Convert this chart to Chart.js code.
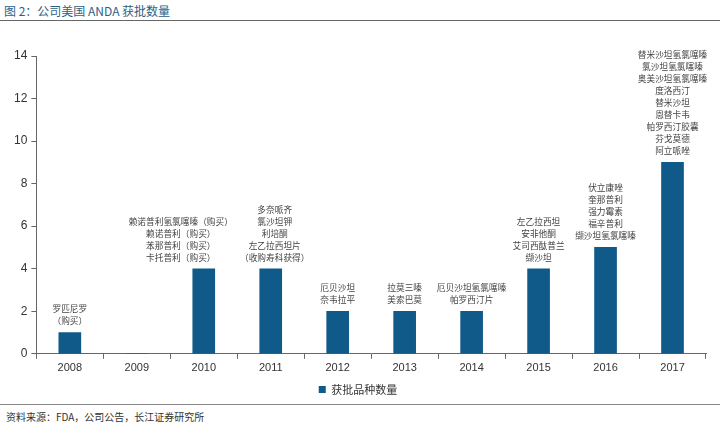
<!DOCTYPE html>
<html>
<head>
<meta charset="utf-8">
<script src="https://cdn.jsdelivr.net/npm/chart.js@4"></script>
<style>
    body { margin: 0; width: 720px; height: 428px; background: #fff; position: relative; overflow: hidden;
           font-family: "Noto Sans CJK SC", "Liberation Sans", sans-serif; }
    #title { position: absolute; left: 4px; top: 2px; font-size: 12px; color: #2e5f86; }
    #rule1 { position: absolute; left: 0; top: 20px; width: 720px; height: 1px; background: #666; }
    #rule2 { position: absolute; left: 0; top: 404px; width: 720px; height: 1px; background: #888; }
    #source { position: absolute; left: 6px; top: 409px; font-size: 10px; color: #333; }
    #wrap { position: absolute; left: 0; top: 22px; width: 720px; height: 383px; }
</style>
</head>
<body>
<div id="title">图 2：公司美国 ANDA 获批数量</div>
<div id="rule1"></div>
<div id="wrap"><canvas id="chart"></canvas></div>
<div id="rule2"></div>
<div id="source">资料来源：FDA，公司公告，长江证券研究所</div>
<script>
    // Data
    const years = ['2008', '2009', '2010', '2011', '2012', '2013', '2014', '2015', '2016', '2017'];
    const approvals = [1, 0, 4, 4, 2, 2, 2, 4, 5, 9];
    const drugNotes = [
        ['罗匹尼罗', '（购买）'],
        [],
        ['赖诺普利氢氯噻嗪（购买）', '赖诺普利（购买）', '苯那普利（购买）', '卡托普利（购买）'],
        ['多奈哌齐', '氯沙坦钾', '利培酮', '左乙拉西坦片', '（收购寿科获得）'],
        ['厄贝沙坦', '奈韦拉平'],
        ['拉莫三嗪', '美索巴莫'],
        ['厄贝沙坦氢氯噻嗪', '帕罗西汀片'],
        ['左乙拉西坦', '安非他酮', '艾司西酞普兰', '缬沙坦'],
        ['伏立康唑', '奎那普利', '强力霉素', '福辛普利', '缬沙坦氢氯噻嗪'],
        ['替米沙坦氢氯噻嗪', '氯沙坦氢氯噻嗪', '奥美沙坦氢氯噻嗪', '度洛西汀', '替米沙坦', '恩替卡韦', '帕罗西汀胶囊', '芬戈莫德', '阿立哌唑']
    ];
    const seriesName = '获批品种数量';
    const yTicks = [0, 2, 4, 6, 8, 10, 12, 14];

    // horizontal nudge of each note block (the 2010 block sits left of its bar)
    const noteShift = [0, 0, -23, 4, 0, 0, 0, 0, 0, 0];

    // draw the drug names stacked above each bar
    const notesPlugin = {
        id: 'notes',
        afterDatasetsDraw(chart) {
            const ctx = chart.ctx;
            const meta = chart.getDatasetMeta(0);
            ctx.save();
            ctx.font = '8.7px "Noto Sans CJK SC", sans-serif';
            ctx.fillStyle = '#444';
            ctx.textAlign = 'center';
            ctx.textBaseline = 'bottom';
            meta.data.forEach(function(bar, i) {
                const lines = drugNotes[i];
                const lineH = 12;
                lines.forEach(function(txt, j) {
                    const y = bar.y - 7 - (lines.length - 1 - j) * lineH;
                    ctx.fillText(txt, bar.x + noteShift[i], y);
                });
            });
            ctx.restore();
        }
    };

    new Chart(document.getElementById('chart'), {
        type: 'bar',
        data: {
            labels: years,
            datasets: [{
                label: seriesName,
                data: approvals,
                backgroundColor: '#0f5a88',
                barThickness: 22,
            }],
        },
        options: {
            responsive: true,
            maintainAspectRatio: false,
            animation: false,
            layout: { padding: { top: 34, left: 10, right: 14, bottom: 0 } },
            plugins: {
                tooltip: { enabled: false },
                legend: {
                    position: 'bottom',
                    labels: {
                        boxWidth: 7, boxHeight: 7, color: '#333',
                        font: { size: 11, family: '"Noto Sans CJK SC", sans-serif' },
                        padding: 6,
                    },
                },
            },
            scales: {
                x: {
                    grid: { display: true, drawOnChartArea: false, tickLength: 5, color: '#666' },
                    border: { color: '#666' },
                    ticks: { color: '#333', font: { size: 11, family: '"Liberation Sans", Arial' }, padding: 3 },
                },
                y: {
                    min: 0, max: 14,
                    afterBuildTicks(axis) { axis.ticks = yTicks.map(v => ({ value: v })); },
                    grid: { display: true, drawOnChartArea: false, tickLength: 5, color: '#666' },
                    border: { color: '#666' },
                    ticks: { color: '#333', font: { size: 12, family: '"Liberation Sans", Arial' }, padding: 4 },
                },
            },
        },
        plugins: [notesPlugin],
    });
</script>
</body>
</html>
